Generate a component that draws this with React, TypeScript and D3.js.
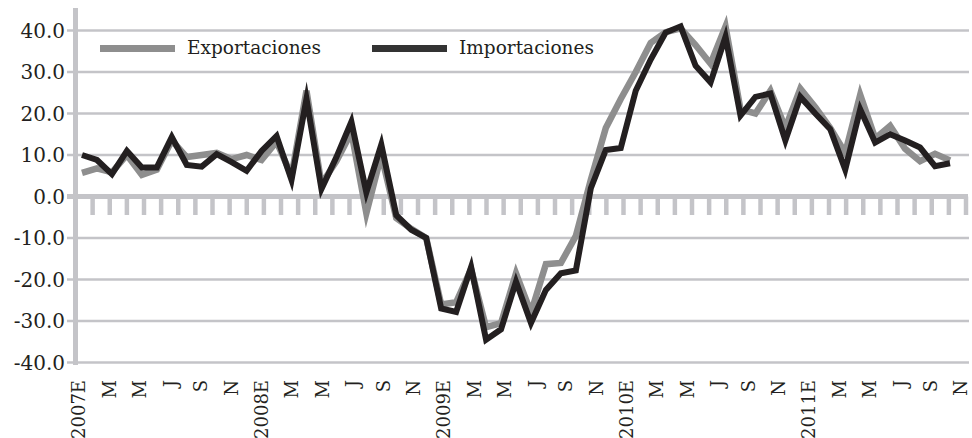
import React from "react";
import * as d3 from "d3";

// Monthly year-on-year growth (%) of exports and imports, Jan 2007 – Nov 2011
const years = [2007, 2008, 2009, 2010, 2011];
const monthInitials = ["E", "F", "M", "A", "M", "J", "J", "A", "S", "O", "N", "D"];
const monthCount = 59;

const exportaciones = [
  5.7, 6.8, 5.8, 10.0, 5.2, 6.5, 13.5, 9.5, 10.0, 10.5, 9.0, 10.0,
  8.8, 13.2, 5.0, 25.5, 3.0, 8.5, 15.5, -4.0, 10.0, -5.2, -7.8, -10.0,
  -26.0, -25.5, -17.5, -31.5, -30.5, -18.5, -28.0, -16.3, -16.0, -9.5, 4.0, 16.5,
  23.5, 30.0, 37.0, 39.6, 40.5, 36.5, 32.0, 41.0, 21.0, 20.0, 25.5, 16.5,
  26.0, 21.5, 16.5, 10.5, 24.5, 14.0, 17.0, 11.5, 8.5, 10.3, 8.7,
];

const importaciones = [
  10.0, 8.8, 5.4, 11.0, 7.0, 7.0, 14.3, 7.6, 7.2, 10.2, 8.3, 6.2,
  11.0, 14.6, 4.0, 23.5, 1.8, 9.5, 18.0, 1.0, 12.5, -4.5, -8.0, -10.0,
  -27.0, -27.8, -17.0, -34.5, -32.0, -20.5, -30.5, -22.5, -18.5, -17.8, 2.0, 11.2,
  11.7, 25.5, 33.0, 39.5, 41.0, 31.5, 27.5, 38.5, 19.5, 24.0, 24.8, 13.5,
  24.0, 20.0, 16.2, 6.5, 21.0, 13.0, 15.0, 13.5, 11.8, 7.3, 8.0,
];

const yTicks = [40, 30, 20, 10, 0, -10, -20, -30, -40];
const tickIntervals = 52;

const seriesNames = ["Exportaciones", "Importaciones"];
const seriesColors = ["#8e8e8e", "#231f20"];

const categories = d3
  .range(monthCount)
  .map((i) => (i % 12 === 0 ? `${years[i / 12]}E` : monthInitials[i % 12]));

const FONT = "'DejaVu Serif', serif";

export default function App() {
  const width = 972;
  const height = 438;
  const axisX = 75.5;
  const plotRight = 968;

  const y = d3.scaleLinear().domain([-40, 40]).range([362.5, 30.5]);
  const xData = d3
    .scalePoint<number>()
    .domain(d3.range(monthCount))
    .range([82, 950]);
  const xLabel = d3
    .scalePoint<number>()
    .domain(d3.range(monthCount))
    .range([79, 961]);
  const xTick = d3.scaleLinear().domain([0, tickIntervals]).range([axisX, 966]);

  const line = d3
    .line<number>()
    .x((_, i) => xData(i) as number)
    .y((d) => y(d));

  const gridColor = "#c4c4c8";
  const labelIdx = d3.range(0, monthCount, 2);

  return (
    <div style={{ position: "absolute", left: 0, top: 0 }}>
      <svg width={width} height={height} style={{ display: "block", background: "#fff" }}>
        {/* horizontal gridlines */}
        {yTicks
          .filter((t) => t !== 0)
          .map((t) => (
            <line
              key={`g${t}`}
              x1={67}
              x2={plotRight + 1}
              y1={y(t)}
              y2={y(t)}
              stroke={gridColor}
              strokeWidth={2.5}
            />
          ))}
        {/* vertical axis */}
        <line x1={axisX} x2={axisX} y1={8} y2={365} stroke={gridColor} strokeWidth={5} />
        {/* zero line with hanging ticks */}
        <line x1={67} x2={plotRight} y1={y(0)} y2={y(0)} stroke={gridColor} strokeWidth={5} />
        {d3.range(1, tickIntervals + 1).map((k) => (
          <line
            key={`t${k}`}
            x1={xTick(k)}
            x2={xTick(k)}
            y1={y(0)}
            y2={y(0) + 18.5}
            stroke={gridColor}
            strokeWidth={4.5}
          />
        ))}

        {/* y tick labels */}
        {yTicks.map((t) => (
          <text
            key={`yl${t}`}
            x={65}
            y={y(t)}
            dy="0.36em"
            textAnchor="end"
            fontFamily={FONT}
            fontSize={20}
            fill="#231f20"
          >
            {t.toFixed(1)}
          </text>
        ))}

        {/* x category labels */}
        {labelIdx.map((i) => (
          <text
            key={`xl${i}`}
            transform={`translate(${xLabel(i)},380) rotate(-90)`}
            dy="0.36em"
            textAnchor="end"
            fontFamily={FONT}
            fontSize={18}
            fill="#231f20"
          >
            {categories[i]}
          </text>
        ))}

        {/* series lines */}
        <path
          d={line(exportaciones) ?? ""}
          fill="none"
          stroke={seriesColors[0]}
          strokeWidth={6.5}
          strokeLinejoin="miter"
          strokeMiterlimit={6}
        />
        <path
          d={line(importaciones) ?? ""}
          fill="none"
          stroke={seriesColors[1]}
          strokeWidth={6}
          strokeLinejoin="miter"
          strokeMiterlimit={6}
        />

        {/* legend */}
        {seriesNames.map((name, k) => {
          const x0 = k === 0 ? 100 : 372;
          return (
            <g key={name}>
              <line
                x1={x0}
                x2={x0 + 75}
                y1={48.5}
                y2={48.5}
                stroke={k === 0 ? seriesColors[0] : "#333"}
                strokeWidth={7}
              />
              <text
                x={x0 + 87}
                y={54}
                fontFamily={FONT}
                fontSize={18.5}
                fill="#231f20"
              >
                {name}
              </text>
            </g>
          );
        })}
      </svg>
    </div>
  );
}
